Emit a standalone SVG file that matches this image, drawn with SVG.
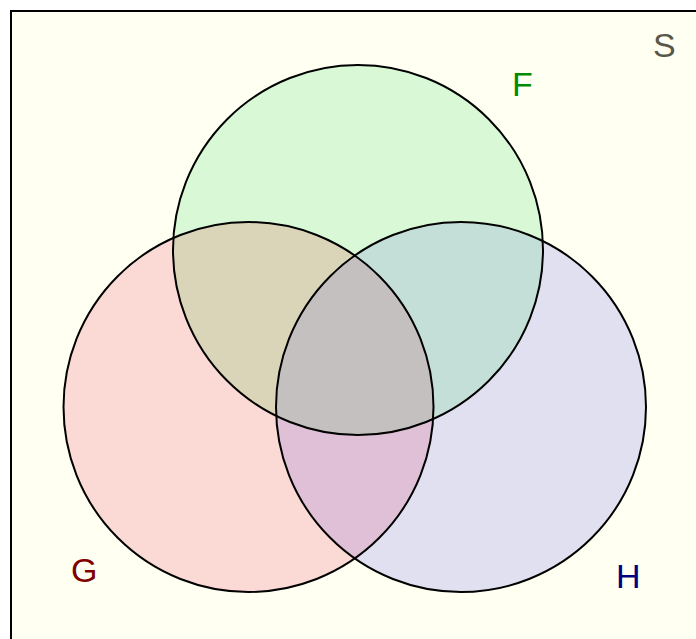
<svg xmlns="http://www.w3.org/2000/svg" width="696" height="639" viewBox="0 0 696 639">
<style>
.outline{fill:none;stroke:#000;stroke-width:2}
.lbl{font-family:"Liberation Sans",Arial,sans-serif;font-size:34px}
</style>
<defs>
<clipPath id="cF"><circle cx="358" cy="250" r="185"/></clipPath>
<clipPath id="cG"><circle cx="248.5" cy="407" r="185"/></clipPath>
<clipPath id="cFG" clip-path="url(#cF)"><circle cx="248.5" cy="407" r="185"/></clipPath>
</defs>
<rect x="0" y="0" width="696" height="639" fill="#ffffff"/>
<g id="S">
<rect x="11" y="11" width="700" height="700" fill="#fffff2" stroke="#000" stroke-width="2"/>
<text class="lbl" x="653" y="57" fill="#58584a">S</text>
</g>
<g id="G">
<circle cx="248.5" cy="407" r="185" fill="#fbd9d5"/>
<text class="lbl" x="71" y="582" fill="#800000">G</text>
</g>
<g id="H">
<circle cx="461" cy="407" r="185" fill="#e1e0f0"/>
<text class="lbl" x="616" y="588" fill="#000080">H</text>
</g>
<g id="F">
<circle cx="358" cy="250" r="185" fill="#d9f9d6"/>
<text class="lbl" x="512" y="96" fill="#008a00">F</text>
</g>
<g id="overlaps">
<circle cx="248.5" cy="407" r="185" fill="#dad5b9" clip-path="url(#cF)"/>
<circle cx="461" cy="407" r="185" fill="#c4dfd7" clip-path="url(#cF)"/>
<circle cx="461" cy="407" r="185" fill="#e0c0d6" clip-path="url(#cG)"/>
<circle cx="461" cy="407" r="185" fill="#c4c0c0" clip-path="url(#cFG)"/>
</g>
<g id="outlines">
<circle class="outline" cx="358" cy="250" r="185"/>
<circle class="outline" cx="248.5" cy="407" r="185"/>
<circle class="outline" cx="461" cy="407" r="185"/>
</g>
</svg>
